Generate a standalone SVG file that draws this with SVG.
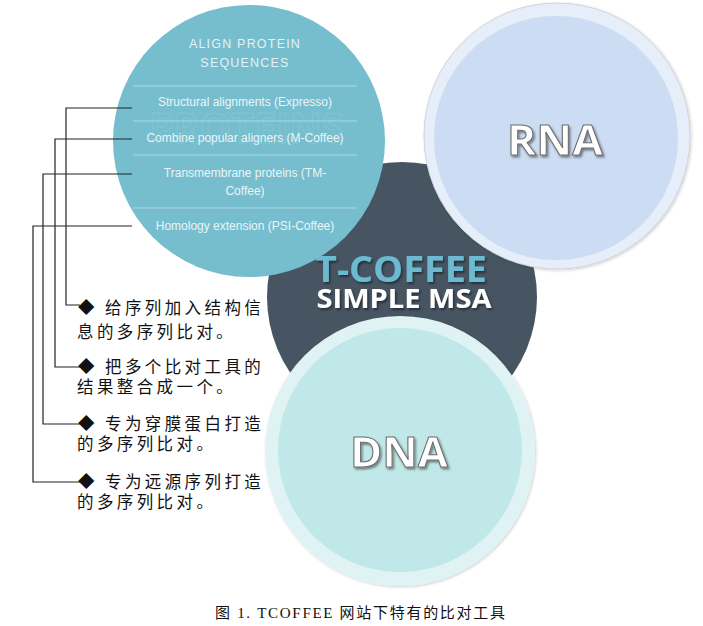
<svg xmlns="http://www.w3.org/2000/svg" width="703" height="626" viewBox="0 0 703 626">
<defs>
<filter id="sh" x="-20%" y="-20%" width="140%" height="160%">
<feDropShadow dx="1.5" dy="2" stdDeviation="1.2" flood-color="#000" flood-opacity="0.45"/>
</filter>
<filter id="csh" x="-10%" y="-10%" width="120%" height="120%">
<feDropShadow dx="1" dy="1" stdDeviation="1.5" flood-color="#000" flood-opacity="0.2"/>
</filter>
</defs>
<style>
.item{font-family:"Liberation Sans",Arial,sans-serif;font-size:12px;fill:#eaf5f8;text-anchor:middle}
.hdr{font-family:"Liberation Sans",Arial,sans-serif;font-size:12.5px;fill:#e3f2f6;text-anchor:middle;letter-spacing:1.2px}
.div{stroke:#a9d8e3;stroke-width:1}
.big{font-family:"Open Sans","Noto Sans",sans-serif;font-weight:700;text-anchor:middle}
.na{fill:#fff;stroke:#6d6d6d;stroke-width:1;filter:url(#sh)}
.cn{font-family:"Noto Sans CJK SC","Noto Sans CJK JP",serif;font-size:16.5px;fill:#111;letter-spacing:3.4px}
.con{fill:none;stroke:#222;stroke-width:1.2}
</style>
<rect width="703" height="626" fill="#fff"/>
<g id="center">
<circle cx="402" cy="297" r="135" fill="#475563"/>
<text class="big" x="401" y="282" font-size="35" fill="#6cbad0" filter="url(#sh)" textLength="172" lengthAdjust="spacingAndGlyphs">T-COFFEE</text>
<text class="big" x="404" y="308" font-size="27" fill="#fff" filter="url(#sh)" textLength="175" lengthAdjust="spacingAndGlyphs">SIMPLE MSA</text>
</g>
<g id="rna">
<circle cx="557" cy="136" r="133" fill="#e6eef9" stroke="#d0d4da" stroke-width="1" filter="url(#csh)"/>
<circle cx="556" cy="138" r="122" fill="#cbdcf3"/>
<text class="big na" x="555" y="155" font-size="42" textLength="96" lengthAdjust="spacingAndGlyphs">RNA</text>
</g>
<g id="dna">
<circle cx="400" cy="451" r="135" fill="#dff3f4" filter="url(#csh)"/>
<circle cx="400" cy="450" r="122" fill="#c1e8e8"/>
<text class="big na" x="399" y="467" font-size="42" textLength="98" lengthAdjust="spacingAndGlyphs">DNA</text>
</g>
<g id="protein">
<circle cx="249" cy="141" r="136" fill="#76bdce"/>
<text x="246" y="143" font-family="Open Sans,Noto Sans,sans-serif" font-weight="700" font-size="42" text-anchor="middle" fill="none" stroke="#ffffff" stroke-opacity="0.12" stroke-width="1" textLength="195" lengthAdjust="spacingAndGlyphs">PROTEINS</text>
<text class="hdr" x="245" y="48">ALIGN PROTEIN</text>
<text class="hdr" x="245" y="67">SEQUENCES</text>
<line class="div" x1="133" y1="86" x2="357" y2="86"/>
<text class="item" x="245" y="106">Structural alignments (Expresso)</text>
<line class="div" x1="133" y1="121" x2="357" y2="121"/>
<text class="item" x="245" y="142">Combine popular aligners (M-Coffee)</text>
<line class="div" x1="133" y1="155" x2="357" y2="155"/>
<text class="item" x="245" y="177">Transmembrane proteins (TM-</text>
<text class="item" x="245" y="195">Coffee)</text>
<line class="div" x1="133" y1="208" x2="357" y2="208"/>
<text class="item" x="245" y="230">Homology extension (PSI-Coffee)</text>
</g>
<g id="connectors">
<polyline class="con" points="132,108 66,108 66,305 80,305"/>
<polyline class="con" points="132,139 55,139 55,367 80,367"/>
<polyline class="con" points="132,174 43,174 43,424 80,424" stroke="#444"/>
<polyline class="con" points="132,226 33,226 33,482 80,482" stroke="#444"/>
</g>
<g id="notes">
<text class="cn" x="78" y="314">◆ 给序列加入结构信</text>
<text class="cn" x="77" y="338">息的多序列比对。</text>
<text class="cn" x="78" y="373">◆ 把多个比对工具的</text>
<text class="cn" x="77" y="393">结果整合成一个。</text>
<text class="cn" x="78" y="430">◆ 专为穿膜蛋白打造</text>
<text class="cn" x="77" y="450">的多序列比对。</text>
<text class="cn" x="78" y="488">◆ 专为远源序列打造</text>
<text class="cn" x="77" y="508">的多序列比对。</text>
</g>
<g id="caption">
<text x="215" y="618" font-family="Liberation Serif,Noto Sans CJK SC,serif" font-size="15" fill="#111" textLength="290" lengthAdjust="spacing">图 1. TCOFFEE 网站下特有的比对工具</text>
</g>
</svg>
